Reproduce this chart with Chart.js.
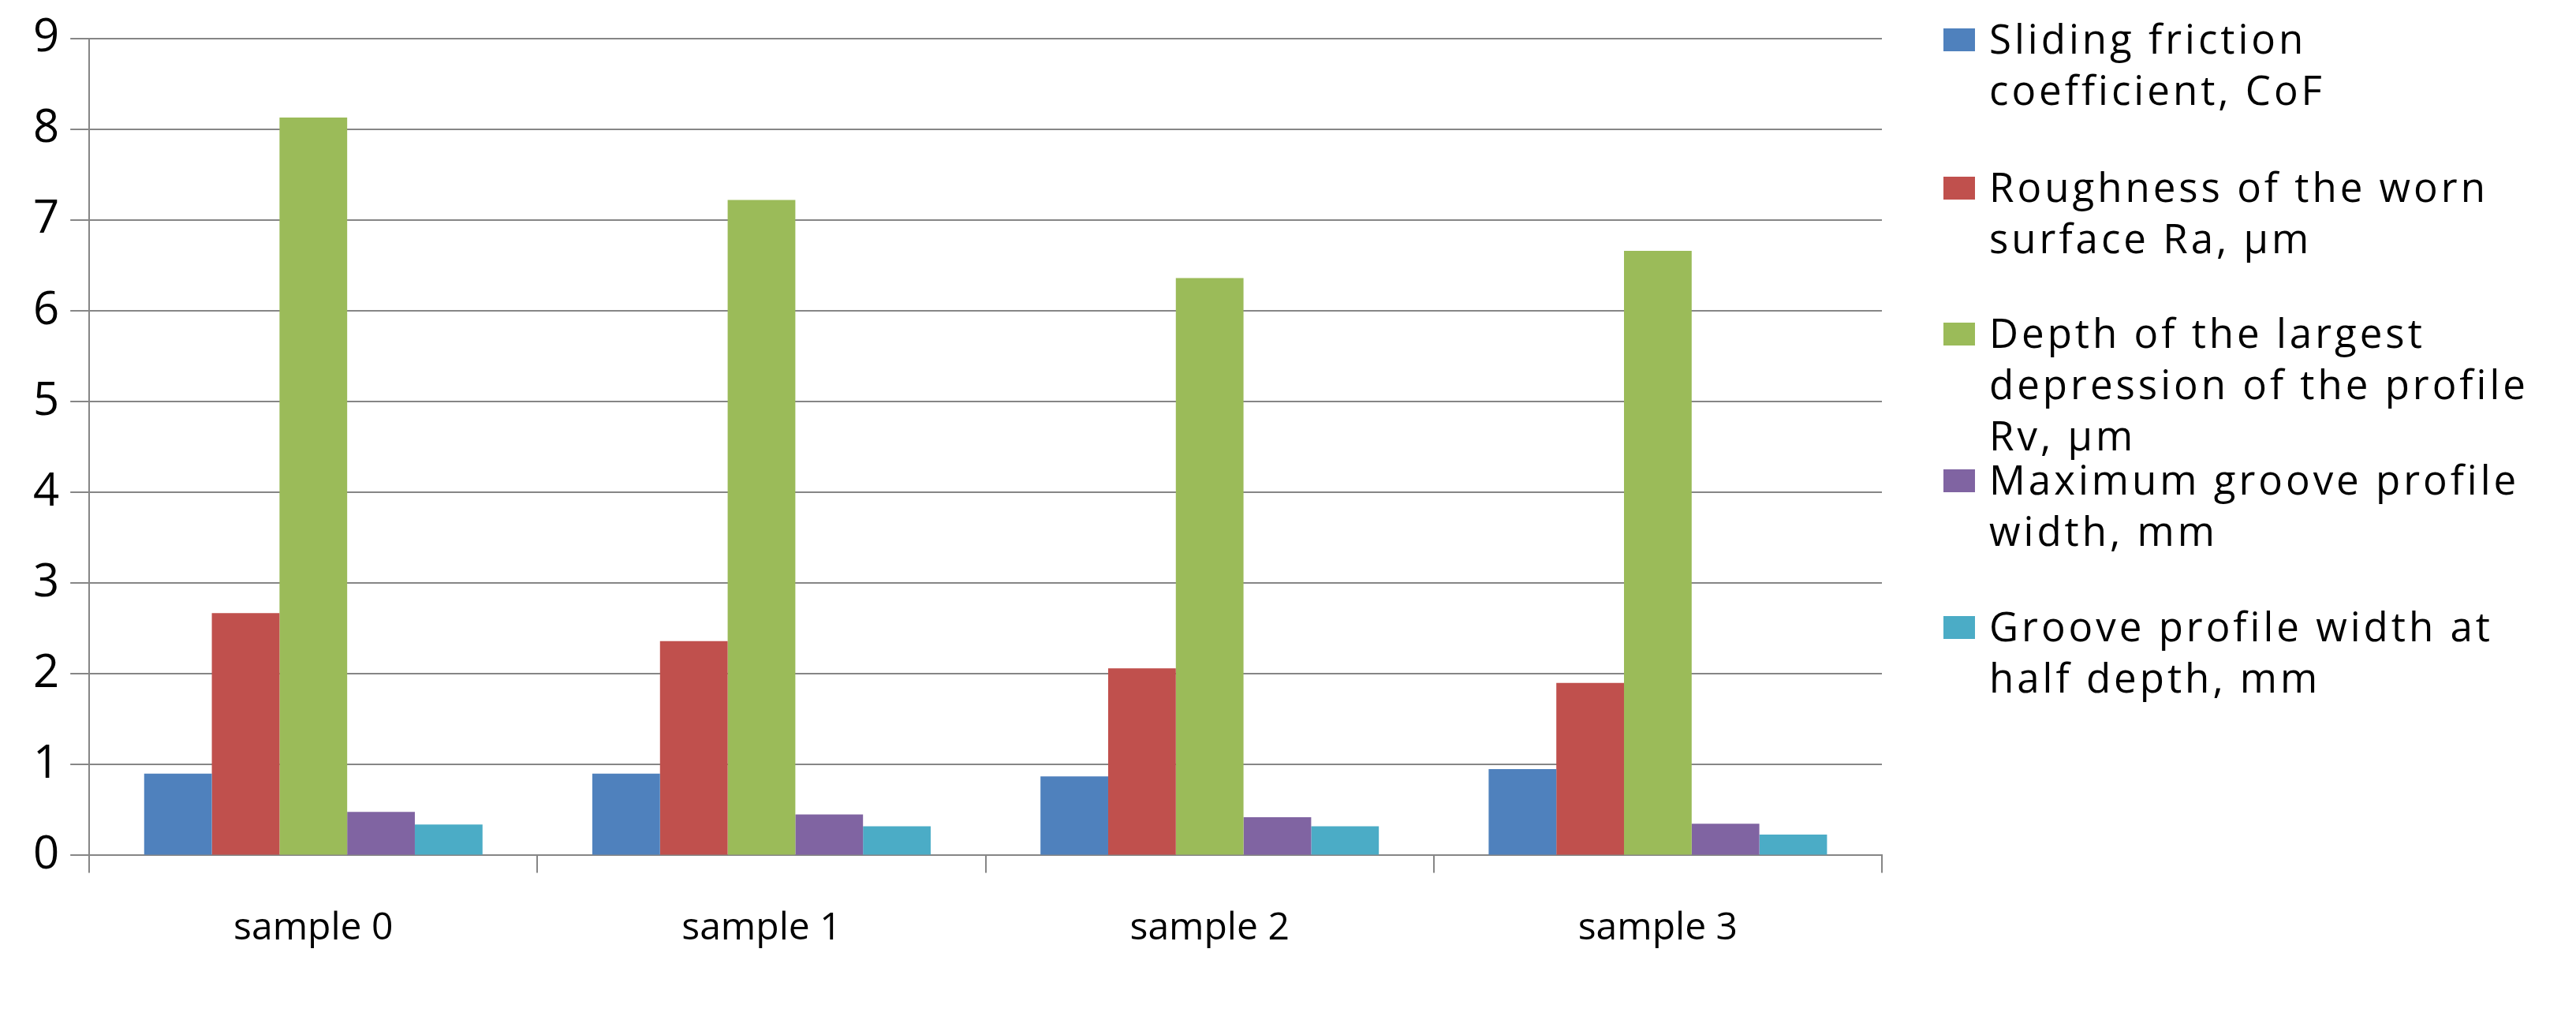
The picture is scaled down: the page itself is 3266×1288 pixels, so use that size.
<!DOCTYPE html>
<html>
<head>
<meta charset="utf-8">
<script src="https://cdn.jsdelivr.net/npm/chart.js@4"></script>
<style>
  body { margin: 0; background: #fff; width: 3266px; height: 1288px; overflow: hidden; position: relative; font-family: "Open Sans", sans-serif; }
  #wrap { position: absolute; left: 0; top: 0; width: 2400px; height: 1288px; }
  #legend { position: absolute; left: 2464px; top: 0; }
  .item { position: absolute; left: 0; width: 800px; font-size: 51px; line-height: 65px; letter-spacing: 4px; color: #000; }
  .sw { position: absolute; left: 0; top: 20px; width: 40px; height: 29px; }
  .txt { position: absolute; left: 58px; top: 0; white-space: nowrap; }
</style>
</head>
<body>
<div id="wrap"><canvas id="c"></canvas></div>
<div id="legend"></div>
<script>
let categories = ["sample 0", "sample 1", "sample 2", "sample 3"];
let seriesNames = [
    ["Sliding friction", "coefficient, CoF"],
    ["Roughness of the worn", "surface Ra, µm"],
    ["Depth of the largest", "depression of the profile", "Rv, µm"],
    ["Maximum groove profile", "width, mm"],
    ["Groove profile width at", "half depth, mm"]
];
let colors = ["#4F81BD", "#C0504D", "#9BBB59", "#8064A2", "#4BACC6"];
let cof = [0.90, 0.90, 0.87, 0.95];
let ra = [2.67, 2.36, 2.06, 1.90];
let rv = [8.13, 7.22, 6.36, 6.66];
let maxWidth = [0.48, 0.45, 0.42, 0.35];
let halfWidth = [0.34, 0.32, 0.32, 0.23];
let yTicks = [0, 1, 2, 3, 4, 5, 6, 7, 8, 9];

let values = [cof, ra, rv, maxWidth, halfWidth];
let legendTops = [16, 204, 389, 575, 761];

// legend drawn as html so the labels can wrap like the original
let legend = document.getElementById("legend");
seriesNames.forEach((lines, i) => {
    let div = document.createElement("div");
    div.className = "item";
    div.style.top = legendTops[i] + "px";
    div.innerHTML = `<div class="sw" style="background:${colors[i]}"></div><div class="txt">${lines.join("<br>")}</div>`;
    legend.appendChild(div);
});

let ctx = document.getElementById("c").getContext("2d");
new Chart(ctx, {
    type: "bar",
    data: {
        labels: categories,
        datasets: values.map((v, i) => ({
            label: seriesNames[i].join(" "),
            data: v,
            backgroundColor: colors[i],
            borderWidth: 0,
            categoryPercentage: 0.755,
            barPercentage: 1.0
        }))
    },
    options: {
        responsive: true,
        maintainAspectRatio: false,
        animation: false,
        devicePixelRatio: 1,
        layout: { padding: { top: 18, right: 14, bottom: 40, left: 28 } },
        plugins: { legend: { display: false }, tooltip: { enabled: false } },
        scales: {
            x: {
                grid: { drawOnChartArea: false, color: "#868686", lineWidth: 2, tickLength: 22, offset: true },
                border: { color: "#868686", width: 2 },
                ticks: { color: "#000", font: { family: "Open Sans", size: 48 }, padding: 42 }
            },
            y: {
                min: 0,
                max: 9,
                afterBuildTicks: axis => { axis.ticks = yTicks.map(v => ({ value: v })); },
                grid: { color: "#868686", lineWidth: 2, tickLength: 24 },
                border: { color: "#868686", width: 2 },
                ticks: { color: "#000", font: { family: "Open Sans", size: 58 }, padding: 14 }
            }
        }
    }
});
</script>
</body>
</html>
